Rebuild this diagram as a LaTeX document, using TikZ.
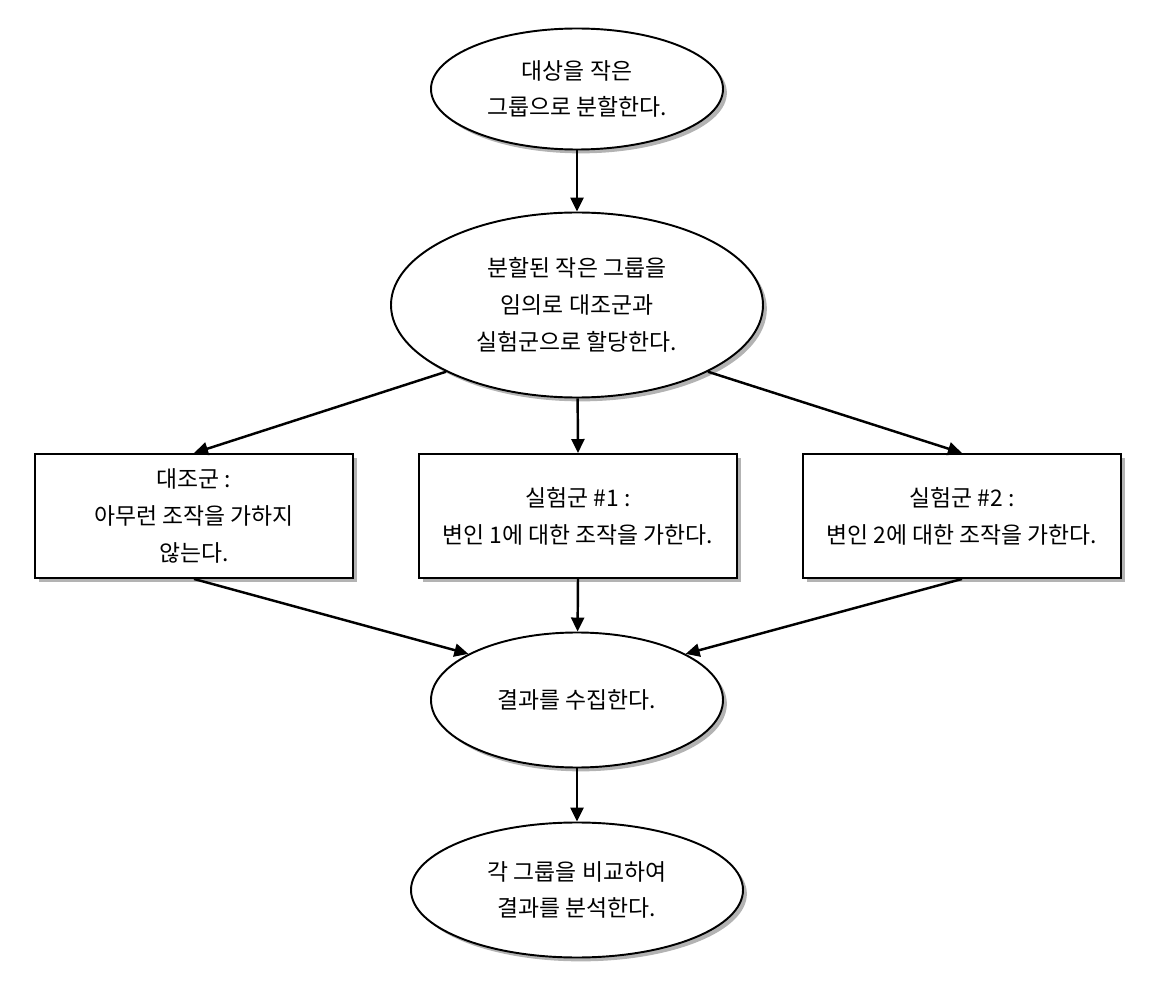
\documentclass[tikz,border=0pt]{standalone}
\usepackage{fontspec}
\setmainfont{Noto Sans CJK KR}
\usetikzlibrary{shapes.geometric,arrows.meta,shadows}

\begin{document}
\begin{tikzpicture}[
  font=\fontsize{13}{21}\selectfont,
  oval/.style={draw, ellipse, line width=1.1pt, fill=white, inner sep=0pt, align=center,
    drop shadow={shadow xshift=2.2pt, shadow yshift=-2.2pt, fill=black!50, opacity=0.6}},
  groupbox/.style={draw, rectangle, line width=1.1pt, fill=white, align=center,
    minimum width=6.36cm, minimum height=2.48cm,
    drop shadow={shadow xshift=2.2pt, shadow yshift=-2.2pt, fill=black!50, opacity=0.6}},
  flow/.style={-{Triangle[length=2.8mm,width=2.6mm]}, line width=1.4pt}
]
\useasboundingbox (0,0) rectangle (23.08,-19.72);
% ellipses
\node[oval, minimum width=5.84cm, minimum height=2.42cm] (split) at (11.54,-1.78) {대상을 작은\\그룹으로 분할한다.};
\node[oval, minimum width=7.44cm, minimum height=3.70cm] (assign) at (11.54,-6.10) {분할된 작은 그룹을\\임의로 대조군과\\실험군으로 할당한다.};
% groups
\node[groupbox] (ctrl) at (3.88,-10.32) {대조군 :\\아무런 조작을 가하지\\않는다.};
\node[groupbox] (expa) at (11.56,-10.32) {실험군 \#1 :\\변인 1에 대한 조작을 가한다.};
\node[groupbox] (expb) at (19.24,-10.32) {실험군 \#2 :\\변인 2에 대한 조작을 가한다.};
\node[oval, minimum width=5.84cm, minimum height=2.70cm] (collect) at (11.54,-14.00) {결과를 수집한다.};
\node[oval, minimum width=6.64cm, minimum height=2.70cm] (analyse) at (11.54,-17.80) {각 그룹을 비교하여\\결과를 분석한다.};
% connectors
\draw[flow] (split) -- (assign);
\draw[flow] (assign.207) -- (ctrl.north);
\draw[flow] (assign) -- (expa.north);
\draw[flow] (assign.333) -- (expb.north);
\draw[flow] (ctrl.south) -- (collect.157);
\draw[flow] (expa.south) -- (collect);
\draw[flow] (expb.south) -- (collect.23);
\draw[flow] (collect) -- (analyse);
\end{tikzpicture}
\end{document}
